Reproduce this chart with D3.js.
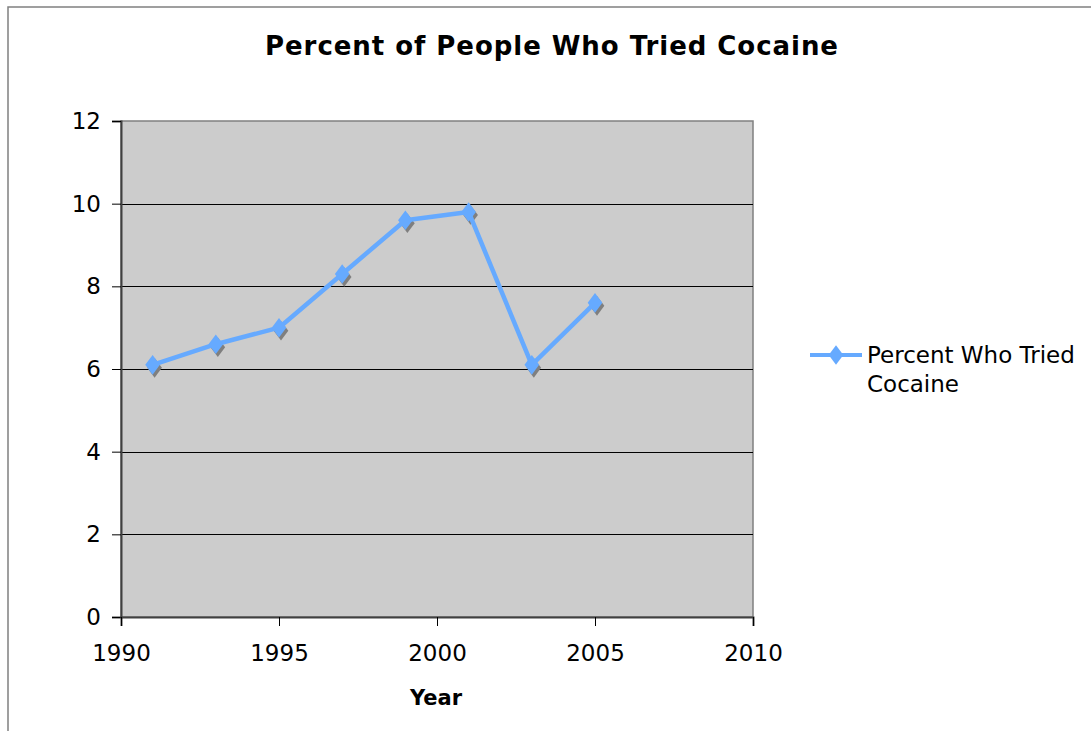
<!DOCTYPE html>
<html>
<head>
<meta charset="utf-8">
<script src="https://cdn.jsdelivr.net/npm/d3@7"></script>
<style>
  html, body { margin: 0; padding: 0; background: #fff; }
  svg { display: block; font-family: "DejaVu Sans", Verdana, sans-serif; }
</style>
</head>
<body>
<svg id="chart" width="1091" height="731"></svg>
<script>
// Survey years and share of respondents who had tried cocaine
const years = [1991, 1993, 1995, 1997, 1999, 2001, 2003, 2005];
const percentTried = [6.1, 6.6, 7.0, 8.3, 9.6, 9.8, 6.1, 7.6];
const yTicks = [0, 2, 4, 6, 8, 10, 12];
const xTicks = [1990, 1995, 2000, 2005, 2010];
const seriesName = ["Percent Who Tried", "Cocaine"];

const svg = d3.select("#chart");
const plot = { left: 121, right: 753, top: 121, bottom: 617 };
const lineColor = "#66aaff";
const font = "'DejaVu Sans', Verdana, sans-serif";

// outer chart frame
svg.append("rect")
  .attr("x", 8).attr("y", 7).attr("width", 1200).attr("height", 800)
  .attr("fill", "#fff").attr("stroke", "#808080").attr("stroke-width", 1.5);

const x = d3.scaleLinear().domain([1990, 2010]).range([plot.left, plot.right]);
const y = d3.scaleLinear().domain([0, 12]).range([plot.bottom, plot.top]);

// plot area background
svg.append("rect")
  .attr("x", plot.left).attr("y", plot.top)
  .attr("width", plot.right - plot.left).attr("height", plot.bottom - plot.top)
  .attr("fill", "#cccccc").attr("stroke", "#808080").attr("stroke-width", 1.5);

// horizontal gridlines
svg.append("g").selectAll("line")
  .data(yTicks.filter(t => t > 0 && t < 12))
  .join("line")
  .attr("x1", plot.left).attr("x2", plot.right)
  .attr("y1", d => Math.round(y(d)) + 0.5).attr("y2", d => Math.round(y(d)) + 0.5)
  .attr("stroke", "#000").attr("stroke-width", 1);

// y axis
const yAxis = svg.append("g")
  .attr("transform", `translate(${plot.left},0)`)
  .call(d3.axisLeft(y).tickValues(yTicks).tickSize(9).tickPadding(11).tickFormat(d3.format("d")));
yAxis.select(".domain").attr("stroke", "#404040").attr("stroke-width", 2);
yAxis.selectAll(".tick line").attr("stroke", "#000");
yAxis.selectAll(".tick text")
  .attr("font-size", 23).attr("fill", "#000").attr("font-family", font);

// x axis
const xAxis = svg.append("g")
  .attr("transform", `translate(0,${plot.bottom})`)
  .call(d3.axisBottom(x).tickValues(xTicks).tickSize(9).tickPadding(19).tickFormat(d3.format("d")));
xAxis.select(".domain").attr("stroke", "#404040").attr("stroke-width", 2);
xAxis.selectAll(".tick line").attr("stroke", "#000");
xAxis.selectAll(".tick text")
  .attr("font-size", 23).attr("fill", "#000").attr("font-family", font);

const data = years.map((yr, i) => ({ year: yr, value: percentTried[i] }));
const diamond = d3.symbol().type(d3.symbolDiamond).size(110);

// marker shadows
svg.append("g").selectAll("path")
  .data(data)
  .join("path")
  .attr("d", diamond)
  .attr("transform", d => `translate(${x(d.year) + 2},${y(d.value) + 3}) scale(1.3,1)`)
  .attr("fill", "#7f7f7f");

// series line
svg.append("path")
  .datum(data)
  .attr("d", d3.line().x(d => x(d.year)).y(d => y(d.value)))
  .attr("fill", "none").attr("stroke", lineColor).attr("stroke-width", 4.5)
  .attr("stroke-linejoin", "round");

// markers
svg.append("g").selectAll("path")
  .data(data)
  .join("path")
  .attr("d", diamond)
  .attr("transform", d => `translate(${x(d.year)},${y(d.value)}) scale(1.3,1)`)
  .attr("fill", lineColor);

// spread a text element's letters so it spans the given width
function fitWidth(sel, width) {
  const node = sel.node();
  const n = node.getNumberOfChars();
  const w = node.getComputedTextLength();
  if (n > 1 && w < width) sel.attr("letter-spacing", (width - w) / (n - 1));
}

// title
const title = svg.append("text")
  .attr("x", 265).attr("y", 55)
  .attr("font-size", 26).attr("font-weight", "bold").attr("font-family", font)
  .text("Percent of People Who Tried Cocaine");
fitWidth(title, 573);

// x axis title
svg.append("text")
  .attr("x", 436).attr("y", 705)
  .attr("text-anchor", "middle")
  .attr("font-size", 21).attr("font-weight", "bold").attr("font-family", font)
  .text("Year");

// legend
const legend = svg.append("g");
legend.append("line")
  .attr("x1", 810).attr("x2", 862).attr("y1", 355).attr("y2", 355)
  .attr("stroke", lineColor).attr("stroke-width", 4);
legend.append("path")
  .attr("d", diamond)
  .attr("transform", "translate(836,355) scale(1.3,1)")
  .attr("fill", lineColor);
legend.append("text")
  .attr("x", 867).attr("y", 363)
  .attr("font-size", 23).attr("font-family", font)
  .selectAll("tspan")
  .data(seriesName)
  .join("tspan")
  .attr("x", 867)
  .attr("dy", (d, i) => i === 0 ? 0 : 29)
  .text(d => d);
</script>
</body>
</html>
